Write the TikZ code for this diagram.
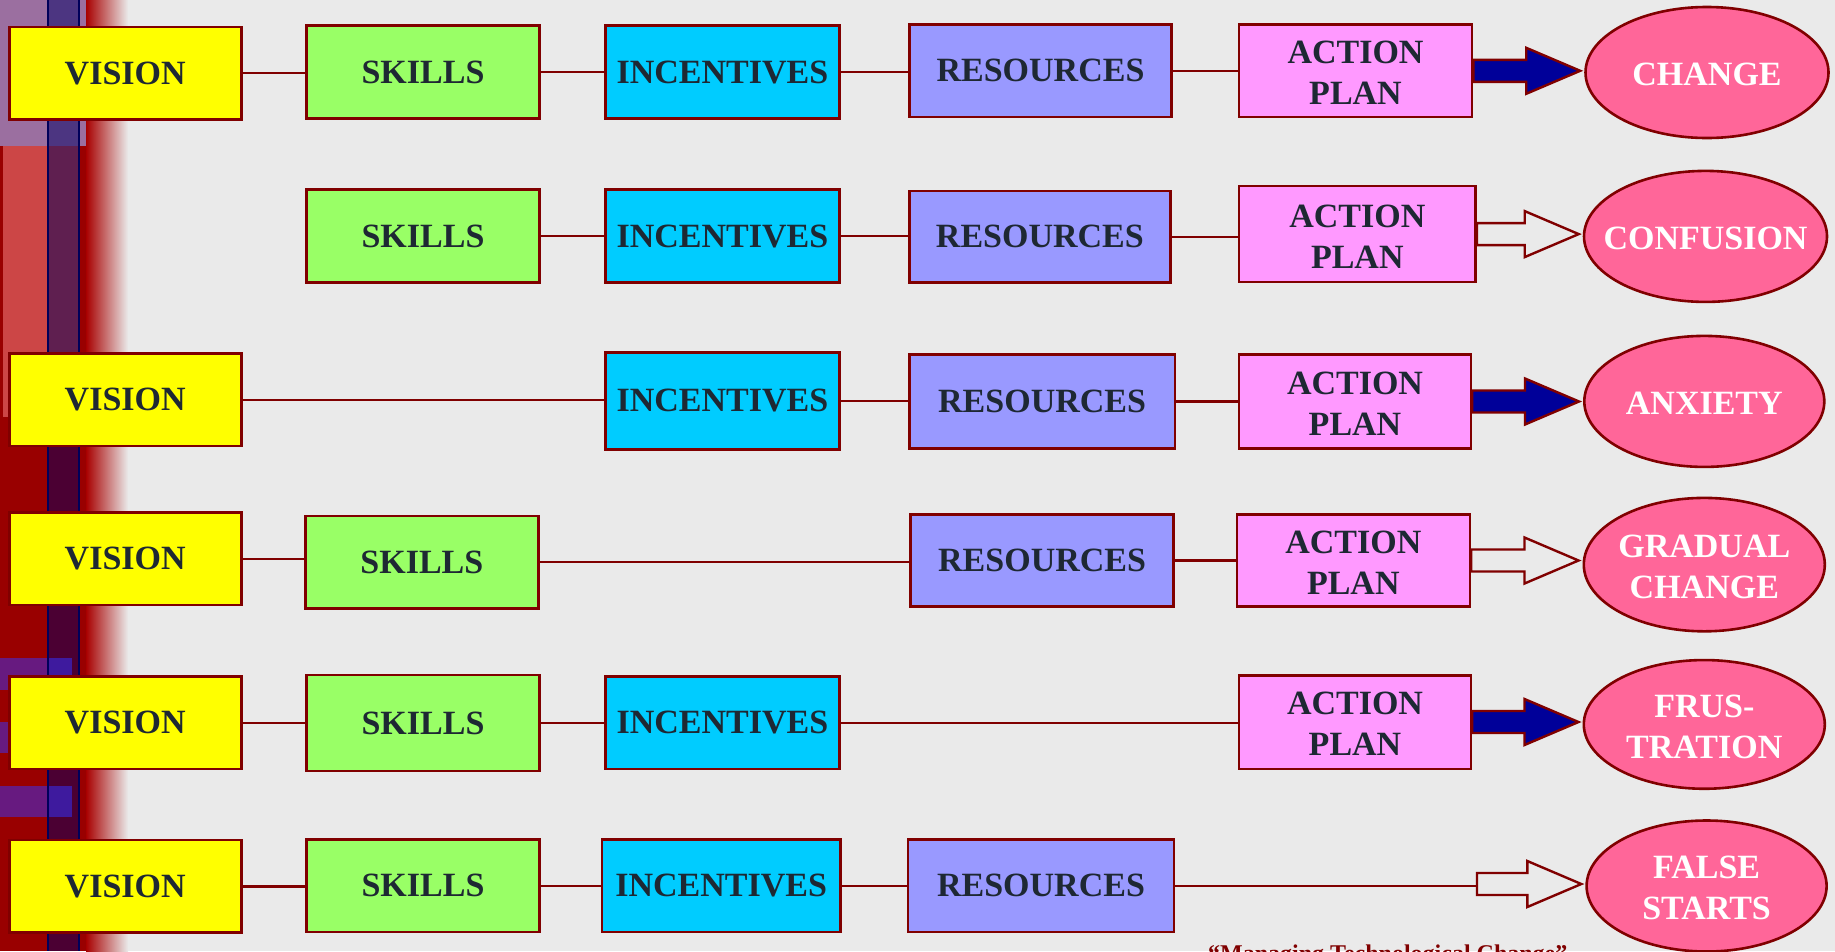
\documentclass[tikz,border=0pt]{standalone}
\usepackage{fontspec}
\setmainfont{Liberation Serif}
\usetikzlibrary{shapes.geometric,calc}

\definecolor{bg}{HTML}{EAEAEA}
\definecolor{edge}{HTML}{800000}
\definecolor{ink}{HTML}{1E2833}
\definecolor{cVision}{HTML}{FFFF00}
\definecolor{cSkills}{HTML}{99FF66}
\definecolor{cIncent}{HTML}{00CCFF}
\definecolor{cResour}{HTML}{9999FF}
\definecolor{cAction}{HTML}{FF99FF}
\definecolor{cResult}{HTML}{FF6699}
\definecolor{navyfill}{HTML}{000099}
% side band colours
\definecolor{bandred}{HTML}{990000}
\definecolor{bandlight}{HTML}{CC4646}
\definecolor{bandmauve}{HTML}{9B6FA0}
\definecolor{barTop}{HTML}{4C3581}
\definecolor{barMid}{HTML}{5F1F50}
\definecolor{barLow}{HTML}{4B0033}
\definecolor{barEdge}{HTML}{00005A}
\definecolor{chipPurple}{HTML}{671A80}
\definecolor{chipBlue}{HTML}{3E1A9E}

% block arrow from the first point to the second, drawn at the first point's height
\newcommand\flowarrow[3]{%
  \draw[#1] let \p1=(#2), \p2=(#3) in
    (\x1,\y1+11) -- (\x2-58,\y1+11) -- (\x2-58,\y1+23) -- (\x2-4,\y1)
    -- (\x2-58,\y1-23) -- (\x2-58,\y1-11) -- (\x1,\y1-11) -- cycle;}

% labels set in an empty box, so the node keeps its own size,
% with the capitals centred on the node centre
\newcommand\slimlabel[1]{\makebox[0pt][c]{\raisebox{-11.5pt}[0pt][0pt]{\begin{tabular}{@{}c@{}}#1\end{tabular}}}}

\begin{document}
\begin{tikzpicture}[x=1pt,y=-1pt,
  box/.style={draw=edge, line width=2.6pt, rectangle, inner sep=0pt,
    align=center, text=ink, minimum height=92.5pt,
    font=\fontsize{34}{41}\selectfont\bfseries},
  vis/.style={box, fill=cVision, minimum width=232pt},
  skl/.style={box, fill=cSkills, minimum width=233pt},
  inc/.style={box, fill=cIncent, minimum width=234pt},
  res/.style={box, fill=cResour, minimum width=262pt},
  act/.style={box, fill=cAction, minimum width=233pt},
  result/.style={ellipse, draw=edge, line width=2.6pt, fill=cResult, inner sep=0pt,
    minimum width=243pt, minimum height=131pt, text=white,
    font=\fontsize{34}{41}\selectfont\bfseries},
  link/.style={draw=edge, line width=2.2pt},
  solidarrow/.style={draw=edge, line width=2.4pt, fill=navyfill, line join=miter},
  openarrow/.style={draw=edge, line width=2.4pt, fill=bg, line join=miter}]

% canvas
\fill[bg] (0,0) rectangle (1835,951);
\useasboundingbox (0,0) rectangle (1835,951);

% decorative side band
\fill[bandred] (0,0) rectangle (86,951);
\shade[left color=bandred!85!red, right color=bg] (86,0) rectangle (128,951);
\fill[bandlight] (3,146) rectangle (80,417);
\fill[bandmauve] (0,0) rectangle (86,146);
\fill[barTop] (48,0) rectangle (79,146);
\fill[barMid] (48,146) rectangle (79,417);
\fill[barLow] (48,417) rectangle (79,951);
\fill[chipPurple] (0,658) rectangle (72,690);
\fill[chipPurple] (0,722) rectangle (9,753);
\fill[chipPurple] (0,786) rectangle (72,817);
\fill[chipBlue] (48,658) rectangle (72,690);
\fill[chipBlue] (48,786) rectangle (72,817);
\draw[barEdge, line width=1.8pt] (48,0) -- (48,951) (79,0) -- (79,951);

% row 1
\node[vis] (v1) at (125.2,73.1) {VISION};
\node[skl] (s1) at (423,72) {SKILLS};
\node[inc] (i1) at (722.4,72) {INCENTIVES};
\node[res] (r1) at (1040.5,70.8) {RESOURCES};
\node[act] (a1) at (1355.5,70.8) {\slimlabel{ACTION\\PLAN}};
\node[result] (e1) at (1707,72.5) {\slimlabel{CHANGE}};

% row 2
\node[skl] (s2) at (423,236) {SKILLS};
\node[inc] (i2) at (722.4,236) {INCENTIVES};
\node[res, minimum width=261pt, minimum height=91.3pt] (r2) at (1039.9,236.6) {RESOURCES};
\node[act, minimum width=236.4pt, minimum height=96pt] (a2) at (1357.3,234.1) {\slimlabel{ACTION\\PLAN}};
\node[result] (e2) at (1705.5,236.4) {\slimlabel{CONFUSION}};

% row 3
\node[vis] (v3) at (125.2,399.7) {VISION};
\node[inc, minimum height=97pt] (i3) at (722.4,400.9) {INCENTIVES};
\node[res, minimum width=265.7pt, minimum height=93.6pt] (r3) at (1042.1,401.5) {RESOURCES};
\node[act, minimum width=231.7pt, minimum height=93.6pt] (a3) at (1355,401.5) {\slimlabel{ACTION\\PLAN}};
\node[result, minimum width=240pt] (e3) at (1704.3,401.4) {\slimlabel{ANXIETY}};

% row 4
\node[vis] (v4) at (125.2,558.8) {VISION};
\node[skl] (s4) at (421.9,562.3) {SKILLS};
\node[res, minimum width=263.3pt] (r4) at (1042.1,560.5) {RESOURCES};
\node[act] (a4) at (1353.3,560.5) {\slimlabel{ACTION\\PLAN}};
\node[result, minimum width=241pt, minimum height=133.4pt] (e4) at (1704.3,564.6) {\slimlabel{GRADUAL\\CHANGE}};

% row 5
\node[vis] (v5) at (125.2,722.6) {VISION};
\node[skl, minimum height=96pt] (s5) at (423,722.9) {SKILLS};
\node[inc] (i5) at (722.4,722.6) {INCENTIVES};
\node[act, minimum width=231.7pt, minimum height=93.6pt] (a5) at (1355,722) {\slimlabel{ACTION\\PLAN}};
\node[result, minimum width=241pt, minimum height=128.7pt] (e5) at (1704.3,724.4) {\slimlabel{FRUS-\\TRATION}};

% row 6
\node[vis] (v6) at (125.2,886.4) {VISION};
\node[skl] (s6) at (423,885.8) {SKILLS};
\node[inc, minimum width=238.7pt] (i6) at (721.2,885.8) {INCENTIVES};
\node[res, minimum width=265.7pt] (r6) at (1041,885.8) {RESOURCES};
\node[result, minimum width=240pt] (e6) at (1706.6,886) {\slimlabel{FALSE\\STARTS}};
\coordinate (t6) at (1477,884);

% connectors
\foreach \a/\b in {v1/s1, s1/i1, i1/r1, r1/a1,
                   s2/i2, i2/r2, r2/a2,
                   v3/i3, i3/r3, r3/a3,
                   v4/s4, s4/r4, r4/a4,
                   v5/s5, s5/i5, i5/a5,
                   v6/s6, s6/i6, i6/r6}
  \draw[link] (\a.east) -- (\a.east -| \b.west);
\draw[link] (r6.east) -- (r6.east -| t6);

% outcome arrows
\flowarrow{solidarrow}{a1.east}{e1.west}
\flowarrow{openarrow}{a2.east}{e2.west}
\flowarrow{solidarrow}{a3.east}{e3.west}
\flowarrow{openarrow}{a4.east}{e4.west}
\flowarrow{solidarrow}{a5.east}{e5.west}
\flowarrow{openarrow}{t6}{e6.west}

% source line at the foot
\node[anchor=north west, inner sep=0pt, text=edge,
  font=\fontsize{24}{28}\selectfont\bfseries] (src) at (1208,945)
  {“Managing Technological Change”};
\end{tikzpicture}
\end{document}
